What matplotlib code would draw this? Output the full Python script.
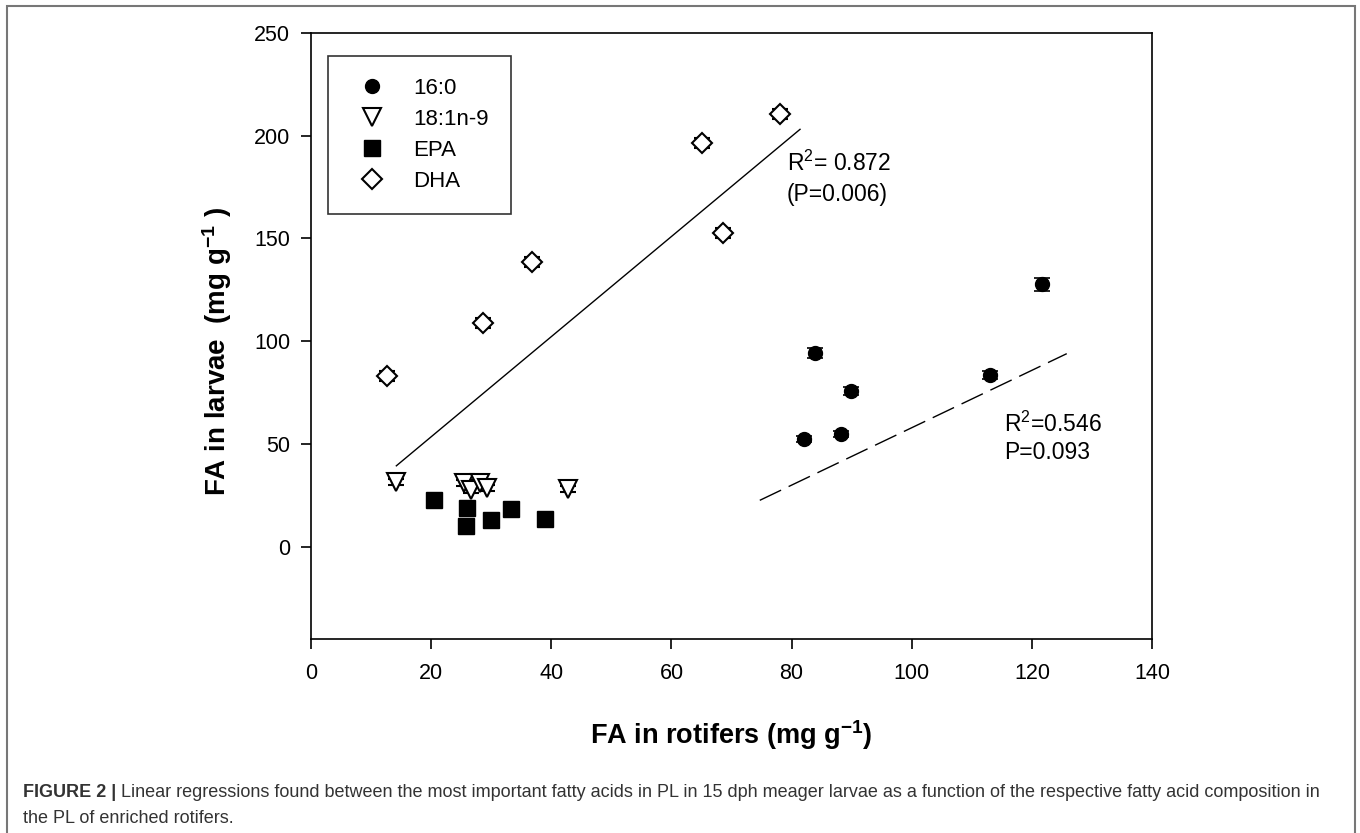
import matplotlib
matplotlib.use("Agg")
import matplotlib.pyplot as plt
from matplotlib.patches import Rectangle
from matplotlib.lines import Line2D

# ─── Data ─────────────────────────────────────────────────────────────────────
c16_x = [121.6, 83.9, 89.9, 82.1, 88.2, 113.0]
c16_y = [127.6, 94.2, 75.7, 52.2, 54.9, 83.5]
c16_err = [3.0, 2.5, 2.0, 1.5, 1.5, 2.0]

c181_x = [14.1, 25.5, 26.7, 28.1, 29.3, 42.7]
c181_y = [31.6, 30.8, 27.6, 31.1, 28.7, 27.9]
c181_err = [1.5, 1.5, 1.5, 1.5, 1.5, 1.5]

epa_x = [20.4, 25.9, 25.8, 30.0, 33.3, 38.9]
epa_y = [22.6, 18.9, 10.1, 12.9, 18.2, 13.4]
epa_err = [2.5, 2.5, 2.5, 2.5, 2.5, 2.5]

dha_x = [12.6, 28.7, 36.7, 65.0, 68.5, 78.1]
dha_y = [83.2, 109.0, 138.4, 196.6, 152.8, 210.6]
dha_err = [2.5, 2.5, 2.5, 2.5, 2.5, 2.5]

# regression lines (end points as read)
dha_fit_x = [14.2, 81.4]
dha_fit_y = [39.3, 203.1]
c16_fit_x = [74.7, 125.8]
c16_fit_y = [22.5, 93.9]

CAPTION_BOLD = "FIGURE 2 |"
CAPTION_1 = (" Linear regressions found between the most important fatty acids in PL "
             "in 15 dph meager larvae as a function of the respective fatty acid composition in")
CAPTION_2 = "the PL of enriched rotifers."

# ─── Style ────────────────────────────────────────────────────────────────────
plt.rcParams.update({
    "font.family": ["Liberation Sans", "DejaVu Sans"],
    "mathtext.default": "regular",
    "axes.linewidth": 1.2,
})

fig = plt.figure(figsize=(13.6, 8.33), dpi=100)
ax = fig.add_axes([0.2287, 0.2329, 0.6184, 0.7275])

eb = dict(ls="none", ecolor="black", elinewidth=1.0, capsize=6, capthick=1.2)
sty_16 = dict(marker="o", ms=10, mfc="black", mec="black")
sty_181 = dict(marker="v", ms=12.5, mfc="white", mec="black", mew=1.5)
sty_epa = dict(marker="s", ms=11, mfc="black", mec="black")
sty_dha = dict(marker="D", ms=10, mfc="white", mec="black", mew=1.5)

ax.errorbar(c16_x, c16_y, yerr=c16_err, **sty_16, **eb)
ax.errorbar(c181_x, c181_y, yerr=c181_err, **sty_181, **eb)
ax.errorbar(epa_x, epa_y, yerr=epa_err, **sty_epa, **eb)
ax.errorbar(dha_x, dha_y, yerr=dha_err, **sty_dha, **eb)

ax.plot(dha_fit_x, dha_fit_y, color="black", lw=1.0)
ax.plot(c16_fit_x, c16_fit_y, color="black", lw=1.0, dashes=(17, 6))

ax.text(79.2, 186.5, "R$^2$= 0.872", fontsize=16.5, va="center", ha="left")
ax.text(79.2, 171.6, "(P=0.006)", fontsize=16.5, va="center", ha="left")
ax.text(115.3, 59.6, "R$^2$=0.546", fontsize=16.5, va="center", ha="left")
ax.text(115.3, 45.6, "P=0.093", fontsize=16.5, va="center", ha="left")

ax.set_xlim(0, 140)
ax.set_ylim(-45, 250)
ax.set_xticks(range(0, 141, 20))
ax.set_yticks(range(0, 251, 50))
ax.tick_params(direction="out", length=7, width=1.2, labelsize=15.5, pad=10)
ax.tick_params(axis="y", pad=8)

ax.set_xlabel("FA in rotifers (mg g$^{-1}$)", fontsize=19.5, fontweight="bold")
ax.xaxis.set_label_coords(0.5, -0.13)
ax.set_ylabel("FA in larvae  (mg g$^{-1}$ )", fontsize=20, fontweight="bold")
ax.yaxis.set_label_coords(-0.092, 0.474)

handles = [Line2D([], [], ls="none", **s) for s in (sty_16, sty_181, sty_epa, sty_dha)]
leg = ax.legend(handles, ["16:0", "18:1n-9", "EPA", "DHA"], loc="upper left",
                bbox_to_anchor=(0.02, 0.962), fontsize=16, frameon=True,
                fancybox=False, edgecolor="black", borderpad=1.0,
                labelspacing=0.45, handletextpad=0.84, handlelength=2.0,
                borderaxespad=0)
leg.get_frame().set_linewidth(1.2)

# ─── Outer frame + caption ────────────────────────────────────────────────────
fig.add_artist(Rectangle((0.0052, -0.02), 0.9912, 1.0128, transform=fig.transFigure,
                         fill=False, edgecolor="#777777", lw=1.5))

t1 = fig.text(23 / 1360, 1 - 797 / 833, CAPTION_BOLD, fontsize=13,
              fontweight="bold", color="#333333", va="baseline")
fig.canvas.draw()
bb = t1.get_window_extent()
fig.text(bb.x1 / fig.bbox.width, 1 - 797 / 833, CAPTION_1, fontsize=13,
         color="#333333", va="baseline")
fig.text(23 / 1360, 1 - 823 / 833, CAPTION_2, fontsize=13,
         color="#333333", va="baseline")

fig.savefig("out.png", dpi=100)
